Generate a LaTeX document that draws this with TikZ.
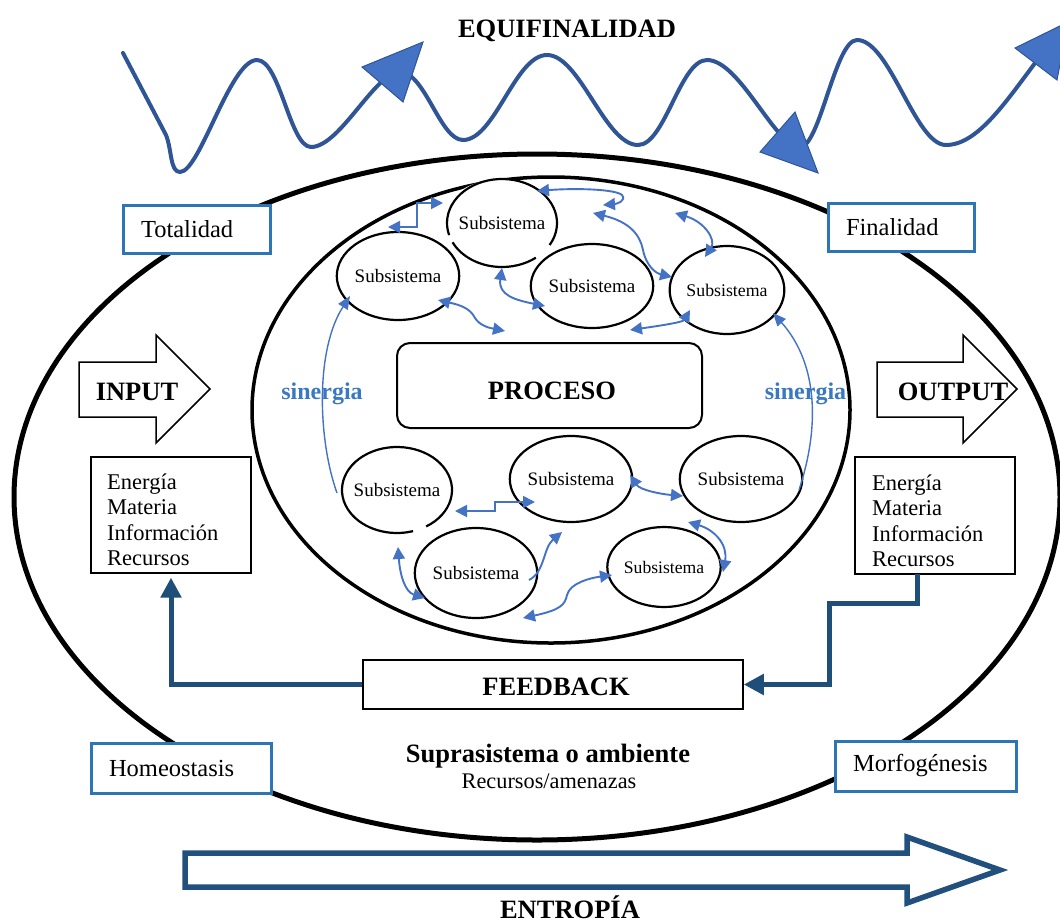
\documentclass[tikz,border=0pt]{standalone}
\usepackage{fontspec}
\setmainfont{Liberation Serif}
\usetikzlibrary{shapes.geometric,arrows.meta,calc}
\definecolor{wavec}{HTML}{2F5597}
\definecolor{tric}{HTML}{4472C4}
\definecolor{linkc}{HTML}{4472C4}
\definecolor{framec}{HTML}{2E75B6}
\definecolor{fbc}{HTML}{1F4E79}
\definecolor{entc}{HTML}{22507E}
\definecolor{sync}{HTML}{3A78C2}
\begin{document}
\begin{tikzpicture}[x=1pt,y=-1pt,
  subsys/.style={ellipse, draw=black, line width=2.2pt, fill=white, inner sep=0pt, font=\fontsize{19}{21}\selectfont},
  lk/.style={draw=linkc, line width=1.9pt, {Triangle[length=12pt,width=12pt]}-{Triangle[length=12pt,width=12pt]}},
  lkone/.style={draw=linkc, line width=1.9pt, -{Triangle[length=12pt,width=12pt]}},
  syn/.style={draw=linkc, line width=1.4pt, -{Triangle[length=13pt,width=11pt]}},
  bluebox/.style={draw=framec, line width=3pt, fill=white, inner xsep=18pt, inner ysep=0pt, align=left, font=\fontsize{24.5}{27}\selectfont},
  listbox/.style={draw=black, line width=1.2pt, fill=white, inner sep=0pt},
  listtext/.style={align=left, inner sep=0pt, font=\fontsize{22.5}{25.5}\selectfont},
  titletext/.style={font=\bfseries\fontsize{26.5}{30}\selectfont, inner sep=0pt},
  syntext/.style={font=\bfseries\fontsize{24}{28}\selectfont, text=sync, inner sep=0pt},
  fbline/.style={draw=fbc, line width=5pt, -{Triangle[length=20pt,width=20pt]}},
  wave/.style={draw=wavec, line width=4pt, line cap=round, line join=round},
  tri/.style={fill=tric, draw=wavec, line width=1pt, line join=miter}
]
\useasboundingbox (0,0) rectangle (1060,922);
\fill[white] (0,0) rectangle (1060,922);

% ---------- wave (equifinalidad) ----------
\draw[wave] (123,53) -- (166,135) .. controls (172,150) and (170,172) .. (180,172)
  .. controls (200,172) and (230,60) .. (257,60)
  .. controls (280,60) and (290,147) .. (311,147)
  .. controls (340,147) and (375,72) .. (400,72)
  .. controls (425,72) and (440,140) .. (463,140)
  .. controls (495,140) and (515,55) .. (547,55)
  .. controls (580,55) and (605,145) .. (638,145)
  .. controls (665,145) and (680,60) .. (707,60)
  .. controls (740,60) and (775,147) .. (800,147)
  .. controls (820,147) and (835,40) .. (857,40)
  .. controls (890,40) and (915,145) .. (946,145)
  .. controls (980,145) and (1010,95) .. (1045,50);
\filldraw[tri] (362,67) -- (423,42) -- (403,102) -- cycle;
\filldraw[tri] (760,152) -- (795,112) -- (818,173) -- cycle;
\filldraw[tri] (1015,48) -- (1068,22) -- (1057,80) -- cycle;
\node[titletext, anchor=base] (equi) at (567,37) {EQUIFINALIDAD};

% ---------- ellipses ----------
\draw[line width=5pt] (537,497) ellipse [x radius=523, y radius=343];
\draw[line width=3.5pt] (551,410) ellipse [x radius=299, y radius=233];

% ---------- blue labelled boxes ----------
\node[bluebox, text width=111pt, minimum height=48pt] (tot) at (196.5,229) {Totalidad};
\node[bluebox, text width=110pt, minimum height=48pt] (fin) at (901,227) {Finalidad};
\node[bluebox, text width=144pt, minimum height=50pt] (hom) at (181,768) {Homeostasis};
\node[bluebox, text width=145pt, minimum height=50pt] (mor) at (925.5,766) {Morfogénesis};

% ---------- process ----------
\node[draw=black, line width=2pt, rounded corners=13pt, minimum width=305pt, minimum height=85pt, inner sep=0pt] (proc) at (549.5,385.5) {};
\node[titletext, anchor=base] (proct) at (552,399) {PROCESO};

% ---------- subsystems ----------
\node[subsys, minimum width=110pt, minimum height=88pt] (s1) at (398,276) {Subsistema};
\node[subsys, draw=none, minimum width=110pt, minimum height=88pt] (s2) at (502,223) {Subsistema};
\draw[line width=2.2pt] (s2.center) ++(30:55 and 44) arc[start angle=30, end angle=-196, x radius=55, y radius=44];
\draw[line width=2.2pt] (s2.center) ++(-206:55 and 44) arc[start angle=-206, end angle=-308, x radius=55, y radius=44];
\node[subsys, minimum width=104pt, minimum height=84pt] (s3) at (592,286) {Subsistema};
\node[subsys, minimum width=102pt, minimum height=88pt, font=\fontsize{17.8}{20}\selectfont] (s4) at (727,290) {Subsistema};
\node[subsys, draw=none, minimum width=110pt, minimum height=86pt] (s5) at (397,490) {Subsistema};
\draw[line width=2.2pt] (s5.center) ++(58:55 and 43) arc[start angle=58, end angle=-287, x radius=55, y radius=43];
\node[subsys, minimum width=108pt, minimum height=86pt] (s6) at (571,479) {Subsistema};
\node[subsys, minimum width=110pt, minimum height=86pt] (s7) at (741,479) {Subsistema};
\node[subsys, minimum width=112pt, minimum height=90pt] (s8) at (476,573) {Subsistema};
\node[subsys, minimum width=98pt, minimum height=80pt, font=\fontsize{17.6}{20}\selectfont] (s9) at (664,567) {Subsistema};

% ---------- links between subsystems ----------
\coordinate (a1) at (388,227); \coordinate (a2) at (443,203);
\draw[lk] (a1) -- ++(29,0) |- (a2);
\coordinate (b1) at (537,191); \coordinate (b2) at (603,205);
\draw[lk] (b1) .. controls (575,188) and (615,189) .. (622,195) .. controls (627,201) and (616,204) .. (b2);
\coordinate (c1) at (593,213); \coordinate (c2) at (672,277);
\draw[lk] (c1) .. controls (630,222) and (640,235) .. (643,250) .. controls (646,265) and (655,273) .. (c2);
\coordinate (d1) at (675,213); \coordinate (d2) at (705,257);
\draw[lk] (d1) .. controls (705,222) and (716,240) .. (d2);
\coordinate (e1) at (502,268); \coordinate (e2) at (545,306);
\draw[lk] (e1) .. controls (498,295) and (515,300) .. (e2);
\coordinate (f1) at (438,300); \coordinate (f2) at (505,331);
\draw[lk] (f1) .. controls (460,305) and (470,308) .. (475,318) .. controls (480,326) and (490,328) .. (f2);
\coordinate (g1) at (690,310); \coordinate (g2) at (630,330);
\draw[lk] (g1) .. controls (683,322) and (665,325) .. (g2);
\coordinate (h1) at (455,511); \coordinate (h2) at (535,502);
\draw[lk] (h1) -- ++(40,0) |- (h2);
\coordinate (i1) at (630,475); \coordinate (i2) at (683,496);
\draw[lk] (i1) .. controls (640,490) and (660,494) .. (i2);
\coordinate (j1) at (688,522); \coordinate (j2) at (723,572);
\draw[lk] (j1) .. controls (715,530) and (728,545) .. (j2);
\coordinate (k1) at (529,580); \coordinate (k2) at (562,532);
\draw[lkone] (k1) .. controls (545,572) and (543,548) .. (k2);
\coordinate (l1) at (523,618); \coordinate (l2) at (612,575);
\draw[lk] (l1) .. controls (560,610) and (565,605) .. (567,595) .. controls (570,583) and (590,578) .. (l2);
\coordinate (m1) at (398,547); \coordinate (m2) at (425,598);
\draw[lk] (m1) .. controls (400,575) and (405,592) .. (m2);

% ---------- sinergia ----------
\coordinate (sl1) at (337,493); \coordinate (sl2) at (350,296);
\draw[syn] (sl1) .. controls (318,440) and (315,350) .. (sl2);
\coordinate (sr1) at (799,490); \coordinate (sr2) at (773,313);
\draw[syn] (sr1) .. controls (822,420) and (815,360) .. (sr2);
\node[syntext, anchor=base] (synl) at (322,399) {sinergia};
\node[syntext, anchor=base] (synr) at (805.5,399) {sinergia};

% ---------- input / output ----------
\draw[line width=1.5pt, fill=white] (79,362) -- (156,362) -- (156,335) -- (210,389) -- (156,443) -- (156,417) -- (79,417) -- cycle;
\node[titletext, anchor=base] (inp) at (137,400) {INPUT};
\draw[line width=1.5pt, fill=white] (877,362) -- (963,362) -- (963,335) -- (1017,389) -- (963,443) -- (963,417) -- (877,417) -- cycle;
\node[titletext, anchor=base] (outp) at (953,400) {OUTPUT};

\node[listbox, minimum width=160pt, minimum height=116pt] (inbox) at (171,515) {};
\node[listtext, anchor=west] (intext) at (107,520) {Energía\\Materia\\Información\\Recursos};
\node[listbox, minimum width=160pt, minimum height=117pt] (outbox) at (935,515.5) {};
\node[listtext, anchor=west] (outtext) at (872,521) {Energía\\Materia\\Información\\Recursos};

% ---------- feedback ----------
\node[draw=black, line width=1.5pt, fill=white, minimum width=380pt, minimum height=49pt, inner sep=0pt] (fbk) at (553,684.5) {};
\node[titletext, anchor=base] (fbkt) at (556,695) {FEEDBACK};
\draw[fbline, shorten >=4pt] (fbk.west) -| (inbox.south);
\coordinate (r0) at (917,574);
\draw[fbline] (r0) -- (917,603) -- (829,603) |- (fbk.east);

% ---------- environment ----------
\node[font=\bfseries\fontsize{26.5}{29}\selectfont, anchor=base, inner sep=0pt] (supra) at (548,762) {Suprasistema o ambiente};
\node[font=\fontsize{22.3}{25}\selectfont, anchor=base, inner sep=0pt] (recam) at (549,788) {Recursos/amenazas};

% ---------- entropy ----------
\draw[draw=entc, line width=5.5pt, fill=white, line join=miter] (185,853) -- (907,853) -- (907,837) -- (1000,870) -- (907,903) -- (907,887) -- (185,887) -- cycle;
\node[titletext, anchor=base] (entr) at (570,918) {ENTROPÍA};
\end{tikzpicture}
\end{document}
